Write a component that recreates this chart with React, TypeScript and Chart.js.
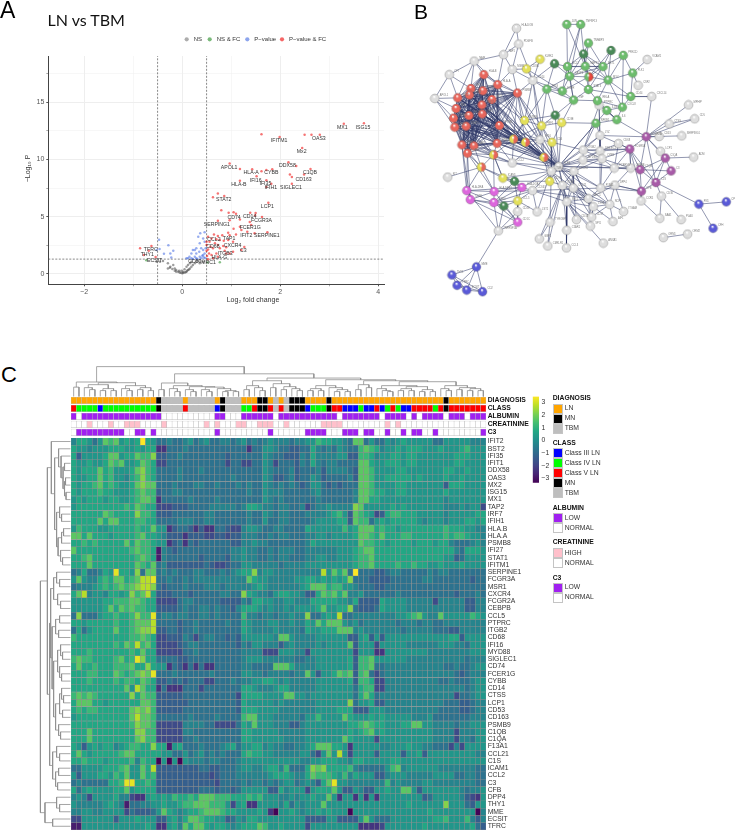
import React, { useEffect, useRef } from "react";
import { Chart, registerables } from "chart.js";

Chart.register(...registerables);
Chart.defaults.font.family = "'Liberation Sans', Arial, sans-serif";
Chart.defaults.plugins.legend.display = false;
Chart.defaults.plugins.tooltip.enabled = false;

/* ---------- Panel A: volcano ---------- */
const volcanoRed = [[3.3,13.13],[3.71,13.16],[1.62,12.2],[1.99,11.97],[2.5,12.17],[2.64,12.17],[2.81,12.17],[2.45,11],[.97,9.64],[1.18,9.17],[1.43,9.14],[1.62,8.97],[1.72,9.08],[1.84,9.14],[2.17,9.75],[2.33,9.43],[2.62,9.17],[2.49,8.68],[2.2,8.7],[2.24,8.47],[1.18,8.15],[1.52,8.53],[1.72,8.18],[1.82,7.89],[1.72,7.6],[2.24,7.89],[.73,7.02],[.86,6.81],[.63,6.7],[1.76,6.23],[.8,5.56],[.95,5.36],[1.05,5.39],[1.1,5.27],[1.39,5.36],[1.5,5.33],[1.49,5.1],[1.63,4.98],[.73,4.66],[.97,4.69],[1.18,4.75],[1.38,4.54],[1.41,4.28],[1.18,4.13],[1.05,3.96],[1.21,3.84],[1.33,3.7],[1.48,3.55],[1.74,3.64],[.94,3.61],[1.1,3.46],[.97,3.38],[.82,3.38],[.65,3.46],[.73,3.32],[.53,3.26],[.6,3.11],[.7,3.03],[.77,2.97],[.85,2.91],[.94,2.97],[.56,2.82],[.67,2.68],[.73,2.53],[.84,2.45],[1.04,2.82],[.58,2.39],[.53,2.15],[.63,2.24],[.77,2.24],[.9,2.33],[.5,2.04],[.55,1.8],[.51,1.57],[.6,1.66],[.7,1.8],[.87,2.04],[.97,1.8],[1.04,1.95],[1.27,2.36],[1.21,2.1],[.63,1.37],[.53,1.28],[.73,1.51],[.9,1.8],[.5,2.53],[.5,2.82],[-.857,2.24],[-.626,2.45],[-.68,2.04],[-.54,1.48],[-.78,1.66]];
const volcanoBlue = [[-.47,3],[-.46,2.18],[-.52,2.1],[-.28,2.5],[-.37,1.77],[-.18,2.04],[-.22,1.43],[-.24,1.8],[.37,3.55],[.46,3.64],[.43,3.11],[.33,3.26],[.36,2.68],[.46,2.82],[.29,2.24],[.39,2.24],[.22,2.1],[.19,1.8],[.29,1.8],[.43,2.1],[.15,1.51],[.26,1.51],[.36,1.51],[.46,1.8],[.12,1.37],[.19,1.37],[.29,1.37],[.39,1.37],[.44,1.46],[.48,2.24],[.09,1.37],[.26,2.1],[.35,1.95],[.43,1.66],[.31,1.3],[.22,1.32],[.41,1.6],[.47,1.4]];
const volcanoGrey = [[-.39,1.14],[-.29,.93],[-.18,.79],[-.24,.64],[-.15,.49],[-.29,.49],[-.12,.35],[-.08,.2],[-.05,.12],[0,.06],[.05,.12],[.09,.2],[.12,.35],[.16,.49],[.19,.64],[.22,.79],[.26,.93],[.29,1.08],[.33,1.16],[.16,.93],[.09,.64],[.02,.2],[-.01,.29],[-.06,.29],[-.12,.2],[-.15,.29],[-.2,.44],[-.25,.55],[.19,1.08],[.36,.93],[.43,1.08],[.12,.79],[.05,.41],[-.52,1.08],[-.45,1.08],[.02,.08],[-.03,.1],[.07,.15],[.1,.28],[.14,.4]];
const volcanoGreen = [[-.73,1.19],[.77,1.02],[.52,1]];
const volcanoLabels: [string, number, number][] = [["MX1",3.27,12.81],["ISG15",3.69,12.81],["OAS3",2.79,11.82],["IFITM1",1.98,11.62],["Mx2",2.44,10.65],["DDX58",2.15,9.43],["APOL1",.96,9.32],["HLA-A",1.41,8.82],["CYBB",1.82,8.82],["C1QB",2.61,8.88],["CD163",2.48,8.27],["IFI16",1.5,8.18],["IFI35",1.7,7.86],["HLA-B",1.16,7.83],["IFIH1",1.81,7.51],["SIGLEC1",2.22,7.51],["STAT2",.85,6.46],["LCP1",1.74,5.85],["CD74",1.06,4.95],["CD14",1.38,5.01],["FCGR3A",1.62,4.66],["SERPING1",.71,4.28],["FCER1G",1.39,4.05],["IFIT2",1.31,3.35],["SERPINE1",1.73,3.32],["TAP1",.96,3.06],["CCL2",.65,2.97],["CD68",.63,2.39],["CXCR4",1.03,2.47],["C3",1.25,2.04],["ITGB3",.88,1.8],["HLA-G",.76,1.43],["TFRC",-.64,2.15],["THY1",-.71,1.66],["ECSIT",-.56,1.14],["CD53",.26,1.08],["MRC1",.54,.99]];
const volcanoLegend: [string, string, number][] = [["NS","#77777799",186.7],["NS & FC","#228b2299",209.7],["P\u2212value","#4169e199",247.3],["P\u2212value & FC","#ee000099",282]];
const pCut = 1.3;
const fcCut = 0.5;

/* ---------- Panel B: network ---------- */
const nodesRed = [[243,215],[286,246],[347,272],[203,258],[240,265],[198,278],[162,287],[268,292],[237,309],[157,320],[197,342],[238,337],[149,350],[153,378],[188,375],[291,373],[175,433],[212,436],[284,428],[192,459]];
const nodesMix = [[335,415],[372,425],[429,472],[273,464],[235,502]];
const nodesYellow = [[417,167],[375,197],[369,357],[422,374],[484,364],[454,425],[302,536],[447,546],[348,607]];
const nodesGreen = [[500,59],[543,59],[567,117],[675,155],[704,210],[698,283],[672,316],[655,355],[624,326],[590,366],[595,296],[521,294],[567,261],[628,232],[612,190],[557,189],[502,190],[509,220],[486,266],[438,260]];
const nodesGreenRed = [[568,222]];
const nodesDark = [[462,181],[552,151],[637,140],[464,341],[338,546],[305,623]];
const nodesPink = [[190,575],[275,578],[361,565],[201,603],[274,612],[348,673]];
const nodesViolet = [[746,408],[695,446],[805,474],[727,510],[823,514],[776,550],[731,577]];
const nodesBlue = [[909,617],[994,610],[953,692],[220,812],[144,837],[160,869],[190,884],[239,889]];
const nodesWhite = [[344,71],[351,120],[304,153],[213,173],[136,215],[91,289],[331,199],[395,233],[749,168],[721,248],[763,283],[877,309],[896,352],[817,368],[856,405],[786,407],[893,471],[790,453],[131,533],[600,310],[603,404],[660,429],[551,449],[603,452],[550,480],[609,476],[647,505],[698,505],[417,417],[331,489],[475,500],[452,515],[522,515],[486,559],[520,567],[605,567],[649,558],[394,575],[567,600],[500,610],[582,625],[633,618],[730,607],[793,592],[676,640],[348,640],[408,641],[448,673],[530,665],[577,657],[643,671],[573,685],[500,698],[415,725],[441,747],[499,753],[613,738],[788,661],[854,665],[799,721],[874,710],[288,700]];
const namesRed = ["HLA-B","HLA-A","PSMB8","IFIT1","IFI35","OAS3","IFIT2","MX2","ISG15","MX1","BST2","IRF7","DDX58","IFI27","STAT1","IFITM1","IFIH1","TAP2","STAT2","OAS1"];
const namesGreen = ["JUN","TNFSF13","TNFAIP3","PRKCD","PLK1","CD44","CXCL8","IL6","IL1B","NFKB1","RELA","TNF","STAT3","MYC","AKT1","MAPK1","BCL2","CASP3","EGFR","TP53"];
const namesViolet = ["FCGR2A","FCGR3A","C1QA","C1QB","C3","C1S","CFB"];
const namesBlue = ["FN1","CP","CFH","MME","THY1","TFRC","ECSIT","CD2"];
const namesYellow = ["KLRK1","CD8A","GZMB","PRF1","CD3E","CD4","ICAM1","CD74","CCL5"];
const namesPink = ["HLA-DRA","HLA-DPB1","HLA-DQA1","CD86","CD80","CD1C"];
const namesWhite = ["HLA-DOB","PDGFB","TAP1","NAIP","CFI","APOL1","MSR1","CD14","VCAM1","CSF2","CXCL14","MPHIP","CD5","CTSS","SERPING1","CD53","ADM","LCP1","KIT","PTPRC","LYZ","CD68","ITGB2","SIGLEC1","MYD88","CYBB","FCER1G","CEBPB","IFI16","CCL2","TLR2","TLR4","CXCR4","ITGB3","CCL21","F13A1","DPP4","CD163","MRC1","SELL","LY96","NCF1","CCR5","CD36","ITGAM","CD48","LST1","TYROBP","CD33","CD37","AIF1","SPI1","C5AR1","GBP1","CMKLR1","CCL3","ANXA1","SAA1","PLAU","ORM1","ORM2","TNFRSF1A"];

const edgeCliques = ["r0 r1 r2 r3 r4 r5 r6 r7 r8 r9 r10 r11 r12 r13 r14 r15 r16 r17 r18 r19"];
const edgeLists = [
"r2:m0 m1 y2 w28 w30 y3","r15:m0 m1 m2 w28 w30","r18:m0 m1 m3 m2 w30 w29","r7:m0 m1 m2 w30","r8:m0 m1 m2 w30","r11:m0 m1 m2 w30","r10:m0 m1 m3 w30","r14:m0 m1 m2 w30 m3","r13:m0 m1 m3 w30","r12:m0 m1 m3 m2","r16:m1 m3 m4 w29 p0 p3","r17:m0 m1 m3 m4 w30","r19:m3 m4 p0 p1 p3","r9:m0 m1 w30 m2","r6:m0 m1 m2 w30","r5:m0 m1 m2 w30","r4:m0 m1 m2 w30","r1:m1 m2 w30",
"m0:m1 m2 y3 w28 w29 m3","m1:m2 y3 w28 w30 w31","m2:y3 w30 w31 y7 w28","m3:m4 w29 y6",
"g0:g16 g15 g1","g1:g16 g15 g17","g2:g15 d1 g14","d1:g15 g14 g16 g17 g13 mg","d2:g14 g13 mg","g3:g4 g13 g14 g6","g4:g5 g13 w9 w8","g5:g13 g6 g12 w10","g6:g8 g10 g7 g13","g7:g8 g9 w19 g10 v0","g8:g10 w19 g9","g10:g12 g13 g11 w19","g11:g18 g19 g12 g17 g16 y4 d3","g12:g17 g15 g14 g13 mg","g13:mg g14 g15","g14:g15 g16 mg g17","g15:g16 g17 mg","g16:g17 g18 d0","g17:g18 g19 mg","g18:g19 w7 mg","g19:w7 d0 m0 y3","d0:g17 w7",
"w0:w1 w2","w1:w2 w6 w7","w2:w3 w6 r1","w3:w4 r0 r1 r3 r6","w4:w5 r3 r6","w5:r6 r9 r12 r13","w6:w7 r1 r2 y1","w7:r2 w28 y2 y3","y1:y0 w7 g18","y0:w7",
"w10:v0 g5","v0:w11 w12 w13 w14 w15 w17 v1 v3 v5 v2","w12:w13","v1:v3 v6 v5 w23 w21 w22 w26 w27","v2:v3 v4 v5 w17 v6 w16","v3:v4 v5 v6 w26","v4:v5","v5:v6 w43 b0","v6:w42 w36 w35","b0:b1 b2","w43:w57 w58","w42:w57","w59:w60",
"w30:w31 w32 w33 w34 w24 w25 w22 w23 w26 w27 w35 w38 w39 w41 w40 y3 y7 w20 g9 d3 y4","w31:w32 w33 w37 y7 p2 w39 w47 w34 y6","w32:w33 w34 w38 w39 w40 w24 w25 w35","w33:w34 w39 w38 w40 w48 w52 w47 w53 w54","w34:w38 w39 w40 w41 w49 w48","w39:w38 w48 w52 w49 w55 w40 w51","w38:w40 w41 w49 w35 w36 w51","w40:w41 w49 w51 w50","w41:w35 w36 w44 w50 w49","w35:w36 w25 w23 w26","w36:w44 v6 w27","w22:w23 w24 w25 w20","w23:w25 w20 w21 w24","w24:w25 w26","w25:w26 w27 v1","w26:w27","w27:v3 v1","w47:w53 w54","w52:w55","w37:p2 p1 p4 w39 w35 w38","w39:w56",
"p0:p1 p3 p4 p2 m4","p1:p2 p3 p4 m3 p5 m4","p2:p4 y8 y6 d4","p3:p4 p5 d5","p4:p5 d5 y8 d4","p5:w61 w45 y8 d5","w61:b3 p0 p4 d5 w45","b3:b4 b5 b6 b7","b4:b5 b6 b7","b5:b6 b7","b6:b7","w18:m4","d4:m4 y6 y8","y6:m4 m3","y7:d4 w33","y8:w45 w37 d5 w46","w46:w37 w31",
"d3:y2 y3 y4 g19","y2:y3 m0 w28 r4","y3:y4 y5 w28","y4:y5 g9","y5:w30 w28 w31 w22","g9:w20 w30 w22","w19:w20 w22 w23","w20:v0 w23 w21","w21:w26 v1","w29:w30 w31 r19","w28:w29 w30"];

/* ---------- Panel C: heatmap ---------- */
const genes = ["IFIT2","BST2","IFI35","IFIT1","DDX58","OAS3","MX2","ISG15","MX1","TAP2","IRF7","IFIH1","HLA.B","HLA.A","PSMB8","IFI27","STAT1","IFITM1","SERPINE1","FCGR3A","MSR1","CXCR4","FCGR2A","CEBPB","CCL5","PTPRC","ITGB2","CD68","IFI16","MYD88","SIGLEC1","CD74","FCER1G","CYBB","CD14","CTSS","LCP1","CD53","CD163","PSMB9","C1QB","C1QA","F13A1","CCL21","C1S","ICAM1","CCL2","C3","CFB","DPP4","THY1","MME","ECSIT","TFRC"];
// each character is a read colour level, see levelValue
const heatRows = [
"688757a9a7878e87 5565567567556656 7565676665667798 87765aa575576787 77775577777666",
"8776777888778788 2255565555555555 5255776554455865 6576559a98677878 88777877789777",
"847777 8aa788a99b 4455655555555455 5555765544465866 6677449986778878 87777777888777",
"8778778a9a778a98 3355555555555355 3355763555465865 665555aa87788878 87777777887777",
"87888a897778ab98 5555655565555555 5555765556455564 666654aa97777887 77777788778777",
"87788a8977689b98 5555655555555565 5555764456455764 555564aa97788888 78777787787777",
"87889a898778abaa 5556555665565556 5655765656545775 454555aa97777887 77777748887777",
"8788898877789a99 4556655555555555 5655766655555675 555556aa98877887 77777787777777",
"7878887887789aa9 2555556555565555 5555765655555565 555556aa88777777 77777767777777",
"7888888888 98a988 3334445555666665 6887665665563566 76666ba777778787 77777766676773",
"888888a98888b998 4445555556655555 5655765665556666 78974a9873489988 87777767777788",
"88888a8aa8889988 5555666556655555 5655755665555677 77884a9957878888 87677767778878",
"798887788888988a 7724554242255433 6776556655558777 777978aaa8988788 88888898887766",
"aa8a888788889a88 7644424443344344 6665565665556677 677778aa98a88899 88888898998776",
"8898988888a8a998 7724525455555544 6676655555556877 777777a998878888 78887886555676",
"a88888888889a998 1654555555555566 7665565666556666 6677789aa8888888 88888888658887",
"889a888888889a98 1655555545555466 7665565665556677 66777899a8888888 88888877457777",
"888a88888888a98a 5644444445433455 7766666566667777 77777899a8888988 98877877787777",
"56855687d887b5aa 5656555665556567 88b677666666666c 7a8a5e5554456655 55565665555555",
"7a766898aa89accd 5565565666666666 6a87766666778878 7878b55544445555 55665555555455",
"566678989a9abccb 5455565556665666 6678766666678aaa 8997765554455555 55555555555555",
"8ac67768878b9ac8 4445554555556655 b87665788776448a 9a8a667555555655 55555555455565",
"77777788999aa988 3333566555554444 6588776677666888 8877684444877776 66663666664466",
"7777778a8a9a9988 4444565566565546 888767667677778a 7788b54445877776 66666666664466",
"5b5557889889b99d 5665665566565555 966566566766b557 87c5566666666778 9a766a77777987",
"887888889889aaac 5555455655555655 87666776676687a8 aaa7675666666566 65665566666666",
"58578888a889abbc 4455455655555555 8766667666658778 88aaa67666666656 66665554466666",
"9888888888899a98 3344465356655454 7777776aa7666677 7777447847477777 77777778847777",
"8888888898a9c9a8 3333456655555554 6577666467666676 7777a47773777776 66666777665777",
"8889888888898a88 3333355655555555 6666333777663777 7777737772277777 77766666666777",
"9a9988889a89db88 5555445555555555 6777666666556677 77778499a7777776 66666666665666",
"8a889888999a88b8 7725425252255555 665555aaa8666677 77778499a5566666 66666655655677",
"88899888a989abad 5556555555655555 776656666566a747 78a9a49a53566666 66666666545666",
"8889888898998a98 4454545553355565 6677887676666677 7777849983366666 66666556555677",
"8888888888a7ca88 2522255535555555 8876667886666677 7777758993366666 66666666665677",
"9a9a9888888b8a99 4444455555555553 888877 77aa776777 7777758a85666666 66666666355677",
"8aaa887888888aa9 4444445555555554 8777776766666677 7777b57784466666 66666655544566",
"89899888888abab9 4444455555555554 8887777666666677 7788844477766666 66666555544566",
"78888888888acaa9 5555556555565555 9aa7776666657797 777a877787877777 66675555555666",
"888888888889baa9 3333366665533335 87a7776664467777 7777889a98877788 aa776666566777",
"888a88888888bb99 3333366555555555 8877777666667777 77778789a7877777 77776666366677",
"888a88888888ab99 3333355655555555 8877777766667777 777a877773777777 77776666366577",
"8747878867899 88b 8817855565556785 7788676655667 8aa a8872777776677 78776655536377",
"8a87888889aa8888 8775575675656555 8988776666677537 a7c7377774777747 78477777777766",
"8898887888896988 0707076665665556 7777777777766778 8877688777778877 77777777777777",
"5577778889a77a8c 4444444455445556 7766788695558bab 8888965555579a67 77777666666655",
"7477788798a77a89 4444444444345556 6666678887668a99 9879687774467776 66667777556655",
"5655555889dd8898 4444444444435555 6566565677567648 ad77666666696766 66776666666655",
"8578777788a78888 4444444455545545 7777744867773788 8a744764477877aa 7477777776 566",
"6763777786 63227 8 7879889 8aaa99 98 8898977766767787 7a72772727277777 77745777776432",
"7666667876 1556 6 7787789 9aaa9997 3782277776857677 7a77777777777777 78777777b77754",
"6677667777354445 7a87678 89aaa9887 7778720778767787 87770777777777 77 77787777777706",
"3377777747778777 4478 68aa98877457 6887777777774444 7744447a75557777 77778897779646",
"1177777777777787 2278 6a8aa8788767 888a977877773777 7777772222377777 77877777777854"
];
const levelValue = (ch: string) => { const i = "0123456789abcde".indexOf(ch.toLowerCase()); return i < 0 ? 0.2 : -3.3 + 0.5 * i; };
const heatValues = heatRows.map(r => r.replace(/\s/g, "").padEnd(78, "7").slice(0, 78).split("").map(levelValue));

const annDiagnosis = "LLLLLLLLLLLLLLLL MTTTTLTTTTTLMTTT LLLMMLTLTMMMLLLL MLLLLLLLLLLLLLLL LLLLLLMLLLLLLL";
const annClass = "5444434444444444 MTTTT5TTTTT3MTTT 445MM5T5TMMM3444 M553334335345433 555545M5555555";
const annAlbumin = "LNLLLLLLLLLLLLLL LNNNNNNNNNNLLNNN LLLLLLNLLLLLLLLL LLNLLLLLLLNLLLLN LNLLLLNLLLNLLL";
const annCreatinine = "NNNHNNNHNNHHHNNN NHNNNNNNNHNHNNNH HNNHHHNNHNNNNNNH HHHNNNNNNNNHNHNN NNNNNNNNNNNNNN";
const annC3 = "NLLLLLLLLLNNLLNL NNNNNNNNNNNLNNNN NNNNNLNNNNNNLLLL NNNLLLNLLNNLNNLN LLNNLNNNNNNNNL";
const annNames = ["DIAGNOSIS","CLASS","ALBUMIN","CREATININE","C3"];
const diagColors: Record<string,string> = { L:"#ffa500", M:"#000000", T:"#bebebe" };
const classColors: Record<string,string> = { "3":"#0000ff", "4":"#00ff00", "5":"#ff0000", M:"#000000", T:"#bebebe" };
const lowColors: Record<string,string> = { L:"#a020f0", N:"#ffffff" };
const highColors: Record<string,string> = { H:"#ffc0cb", N:"#ffffff" };

const legendGroups: { title:string; y:number; top:number; items:[string,string][] }[] = [
  { title:"DIAGNOSIS", y:398.7, top:403.7, items:[["LN","#ffa500"],["MN","#000000"],["TBM","#bebebe"]] },
  { title:"CLASS", y:443.3, top:448.3, items:[["Class III LN","#0000ff"],["Class IV LN","#00ff00"],["Class V LN","#ff0000"],["MN","#000000"],["TBM","#bebebe"]] },
  { title:"ALBUMIN", y:508, top:513.3, items:[["LOW","#a020f0"],["NORMAL","#ffffff"]] },
  { title:"CREATININE", y:542.7, top:548, items:[["HIGH","#ffc0cb"],["NORMAL","#ffffff"]] },
  { title:"C3", y:578, top:582.7, items:[["LOW","#a020f0"],["NORMAL","#ffffff"]] },
];

// dendrograms: [merge height, left child, right child]; 0 is a leaf
const colTree: any = [30.3,
  [14.7,[9.5,0,0],[14,[12,[9,0,[7,0,0]],[8,[6,0,0],[6,0,0]]],[11,[8,0,[6,0,0]],[9,[7,0,0],[6,0,0]]]]],
  [23,
    [13.7,[7,0,0],[11,[8,0,[5,0,0]],[10,[7,0,[5,0,0]],[9.5,[7,0,[5,0,0]],[8,0,[6,[5,0,0],[5,0,0]]]]]]],
    [18.7,
      [16,[11,[7,0,0],[9,0,[6,0,0]]],[13,[9,0,0],[10,[7,0,0],[8,0,[6,0,0]]]]],
      [17,
        [11,[8,[6,0,0],[6,0,0]],[9,0,[7,[5,0,0],[5,0,0]]]],
        [16,[12,[7,0,0],[9,0,0]],[15,
          [11,[8,0,[6,0,[5,0,0]]],[10,[8,[6,0,0],[6,0,0]],[7,[5,0,0],[5,0,0]]]],
          [11,[8,0,[6,0,0]],[9,[7,0,0],[8,[6,0,0],[6,0,0]]]]]]]]]];
const rowTree: any = [30.3,
  [23.3,
    [19.3,0,[16,
      [12,0,[9.5,0,[7.5,[6,0,0],[6,[5,0,0],[4.5,0,0]]]]],
      [14,[11,0,[9,0,0]],[12.5,[9,[7,0,0],0],[10,0,[8,0,0]]]]]],
    [21,
      [20,[17,[14,0,[11,0,0]],[13,0,[10,0,0]]],[18.5,[15,[11,0,0],[12,0,0]],
        [17,[13,[10,0,[8,0,0]],[11,0,[9,0,0]]],[15,[11,[9,0,[7,0,0]],[8,0,0]],[12,0,[10,0,0]]]]]],
      [18,[14,0,[11,0,0]],[15,[12,0,0],[13,0,0]]]]],
  [25.7,[14,0,[11,0,0]],[18,0,0]]];

const colorMin = -3.34, colorMax = 3.45;
const colorTicks = [-3,-2,-1,0,1,2,3];

/* ---------- helpers ---------- */
const viridis = ["#440154","#482475","#414487","#355f8d","#2a788e","#21918c","#22a884","#44bf70","#7ad151","#bddf26","#fde725"];
const hex = (h: string) => [1,3,5].map(i => parseInt(h.slice(i,i+2),16));
function colorOf(v: number) {
  const t = Math.max(0, Math.min(1, (v - colorMin) / (colorMax - colorMin))) * 10;
  const i = Math.min(9, Math.floor(t)); const a = hex(viridis[i]), b = hex(viridis[i+1]); const f = t - i;
  return `rgb(${a.map((c,k) => Math.round(c + (b[k]-c)*f)).join(",")})`;
}
const minus = (v: number) => v < 0 ? "\u2212" + (-v) : String(v);
const fixW = (w: number) => (s: any) => { s.width = w; };
const fixH = (h: number) => (s: any) => { s.height = h; };
const pts = (a: number[][]) => a.map(([x,y]) => ({x,y}));

function sphere(color: string, second?: string) {
  const c = document.createElement("canvas"); c.width = 11; c.height = 11;
  const g = c.getContext("2d")!; const R = 4.4, m = 5.5;
  const draw = (col: string, clip?: boolean) => {
    g.save();
    if (clip) { g.beginPath(); g.rect(m, 0, 6, 11); g.clip(); }
    g.beginPath(); g.arc(m, m, R, 0, Math.PI*2);
    const gr = g.createRadialGradient(m-.6, m-1.8, .4, m, m, R);
    gr.addColorStop(0, "#ffffff"); gr.addColorStop(.32, col); gr.addColorStop(1, col);
    g.fillStyle = gr; g.fill(); g.restore();
  };
  draw(color); if (second) draw(second, true);
  g.beginPath(); g.arc(m, m, R, 0, Math.PI*2); g.strokeStyle = "rgba(70,70,70,.55)"; g.lineWidth = .5; g.stroke();
  return c;
}

function tree(t: any) {
  let leaf = 0; const segs: ({p:number,h:number}|null)[] = [];
  const walk = (n: any): {p:number,h:number} => {
    if (n === 0) return { p: (leaf++) + .5, h: 0 };
    const A = walk(n[1]), B = walk(n[2]); const h = n[0];
    segs.push({p:A.p,h:A.h},{p:A.p,h},{p:B.p,h},{p:B.p,h:B.h},null);
    return { p:(A.p+B.p)/2, h };
  };
  walk(t); return segs;
}

/* ---------- chart configs ---------- */
function volcanoConfig(): any {
  const ds = (data: number[][], c: string) => ({ type:"scatter", data:pts(data), backgroundColor:c, borderWidth:0, pointRadius:1.25 });
  const line = (data: number[][]) => ({ type:"scatter", showLine:true, data:pts(data), borderColor:"#555", borderWidth:.7, borderDash:[2,1.5], pointRadius:0 });
  return {
    type:"scatter",
    data:{ datasets:[
      ds(volcanoRed,"rgba(238,0,0,.55)"), ds(volcanoBlue,"rgba(65,105,225,.55)"), ds(volcanoGreen,"rgba(34,139,34,.55)"), ds(volcanoGrey,"rgba(77,77,77,.55)"),
      line([[-2.73,pCut],[4.12,pCut]]), line([[-fcCut,-.9],[-fcCut,19.04]]), line([[fcCut,-.9],[fcCut,19.04]]),
    ]},
    options:{ responsive:false, animation:false, layout:{padding:{left:18.3,top:56,right:16,bottom:5.7}},
      scales:{
        x:{ type:"linear", min:-2.73, max:4.12, afterFit:fixH(25),
          ticks:{ stepSize:1, includeBounds:false, autoSkip:false, maxRotation:0, color:"#555", font:{size:7}, padding:2, callback:(v:number)=> v%2===0 ? minus(v) : "" },
          grid:{ color:"#eeeeee", lineWidth:(c:any)=> c.tick && c.tick.value%2===0 ? 1 : .5, tickLength:2, tickColor:"#555" },
          border:{ display:true, color:"#444", width:1 } },
        y:{ type:"linear", min:-.9, max:19.04, afterFit:fixW(30),
          ticks:{ stepSize:2.5, includeBounds:false, autoSkip:false, color:"#555", font:{size:7}, padding:2, callback:(v:number)=> v%5===0 ? String(v) : "" },
          grid:{ color:"#eeeeee", lineWidth:(c:any)=> c.tick && c.tick.value%5===0 ? 1 : .5, tickLength:2, tickColor:"#555" },
          border:{ display:true, color:"#444", width:1 } },
      } },
    plugins:[{ id:"volcanoText", afterDatasetsDraw(ch:any){
      const g = ch.ctx, X = ch.scales.x, Y = ch.scales.y; g.save();
      g.font = "5.2px 'Liberation Sans'"; g.fillStyle = "#333"; g.textAlign = "center"; g.textBaseline = "middle";
      volcanoLabels.forEach(([t,x,y]) => g.fillText(t, X.getPixelForValue(x), Y.getPixelForValue(y)));
      g.font = "6px 'Liberation Sans'"; g.textAlign = "left";
      volcanoLegend.forEach(([t,c,x]) => { g.fillStyle = c; g.beginPath(); g.arc(x,39.3,2.1,0,7); g.fill(); g.fillStyle = "#333"; g.fillText(t, x+7, 39.5); });
      g.font = "7px 'Liberation Sans'"; g.textAlign = "center"; g.fillStyle = "#333"; g.fillText("Log\u2082 fold change", 253, 300);
      g.translate(28,168.5); g.rotate(-Math.PI/2); g.fillText("\u2212Log\u2081\u2080 P", 0, 0);
      g.restore();
    } }],
  };
}

function networkConfig(): any {
  const groups: [string, number[][], string, string|undefined, string[]][] = [
    ["r",nodesRed,"#e8665c",undefined,namesRed],["m",nodesMix,"#e3dd55","#e8665c",[]],["y",nodesYellow,"#e3e05a",undefined,namesYellow],
    ["g",nodesGreen,"#6dbd6d",undefined,namesGreen],["mg",nodesGreenRed,"#6dbd6d","#e8443c",[]],["d",nodesDark,"#4a8a58",undefined,[]],
    ["p",nodesPink,"#dd66dd",undefined,namesPink],["v",nodesViolet,"#a85ba8",undefined,namesViolet],["b",nodesBlue,"#5a5ad8",undefined,namesBlue],["w",nodesWhite,"#dedede",undefined,namesWhite],
  ];
  const key: Record<string,number[]> = {};
  groups.forEach(([k,arr]) => arr.forEach((p,i) => { key[k==="mg" ? "mg" : k+i] = p; }));
  const links: any[] = [];
  const add = (a:string,b:string) => { const A = key[a], B = key[b]; if (A && B) links.push({x:A[0],y:A[1]},{x:B[0],y:B[1]},{x:null,y:null}); };
  edgeCliques.forEach(s => { const m = s.split(" "); m.forEach((a,i) => m.slice(i+1).forEach(b => add(a,b))); });
  edgeLists.forEach(s => { const [a,r] = s.split(":"); r.split(" ").forEach(b => add(a,b)); });
  return {
    type:"scatter",
    data:{ datasets:[
      ...groups.map(([,arr,c,c2]) => ({ data:pts(arr), pointStyle:sphere(c,c2), pointRadius:4.4 })),
      { data:links, showLine:true, pointRadius:0, borderColor:"rgba(46,56,104,.62)", borderWidth:.85, spanGaps:false },
    ]},
    options:{ responsive:false, animation:false, layout:{padding:0},
      scales:{ x:{ type:"linear", min:0, max:1026, display:false }, y:{ type:"linear", min:0, max:960, reverse:true, display:false } } },
    plugins:[{ id:"nodeNames", afterDatasetsDraw(ch:any){
      const g = ch.ctx, X = ch.scales.x, Y = ch.scales.y; g.save();
      g.font = "2.6px 'Liberation Sans'"; g.fillStyle = "#777"; g.textBaseline = "middle";
      groups.forEach(([,arr,,,names]) => arr.forEach((p,i) => { if (names[i]) g.fillText(names[i], X.getPixelForValue(p[0])+5, Y.getPixelForValue(p[1])-3); }));
      g.restore();
    } }],
  };
}

function heatConfig(): any {
  return {
    type:"bar",
    data:{ labels:heatValues[0].map((_,i)=>i+1), datasets:heatValues.map((row,r)=>({
      label:genes[r], data:row.map(()=>1), backgroundColor:row.map(colorOf), borderColor:"#8e8e8e", borderWidth:.5, borderSkipped:false, barPercentage:1, categoryPercentage:1,
    }))},
    options:{ responsive:false, animation:false, layout:{padding:{left:71,right:2,top:7.9,bottom:10.1}},
      scales:{
        x:{ stacked:true, display:false },
        y:{ stacked:true, type:"linear", position:"right", reverse:true, min:0, max:54, afterFit:fixW(57),
          afterBuildTicks:(s:any)=>{ s.ticks = genes.map((_,i)=>({value:i+.5})); },
          ticks:{ autoSkip:false, font:{size:6.8}, color:"#333", padding:1.7, callback:(_:any,i:number)=>genes[i] },
          grid:{ display:false, drawTicks:false, tickLength:0 }, border:{ display:false } },
      } },
  };
}

function annotationConfig(): any {
  const clean = (s:string)=>s.replace(/\s/g,"").split("");
  const tracks = [[annDiagnosis,diagColors],[annClass,classColors],[annAlbumin,lowColors],[annCreatinine,highColors],[annC3,lowColors]] as [string,Record<string,string>][];
  const datasets:any[] = [];
  tracks.forEach(([s,map])=>{
    const cells = clean(s);
    datasets.push({ data:cells.map(()=>.84), backgroundColor:cells.map(c=>map[c]), borderColor:"#bdbdbd", borderWidth:.5, borderSkipped:false, barPercentage:1, categoryPercentage:1 });
    datasets.push({ data:cells.map(()=>.16), backgroundColor:"rgba(0,0,0,0)", borderWidth:0, barPercentage:1, categoryPercentage:1 });
  });
  return {
    type:"bar",
    data:{ labels:clean(annClass).map((_,i)=>i+1), datasets },
    options:{ responsive:false, animation:false, layout:{padding:{left:71,right:2,top:7,bottom:9}},
      scales:{
        x:{ stacked:true, display:false },
        y:{ stacked:true, type:"linear", position:"right", reverse:true, min:0, max:5, afterFit:fixW(57),
          afterBuildTicks:(s:any)=>{ s.ticks = annNames.map((_,i)=>({value:i+.42})); },
          ticks:{ autoSkip:false, font:{size:6.8,weight:"bold"}, color:"#111", padding:1.7, callback:(_:any,i:number)=>annNames[i] },
          grid:{ display:false, drawTicks:false, tickLength:0 }, border:{ display:false } },
      } },
  };
}

function colTreeConfig(): any {
  const data = tree(colTree).map(s => s ? {x:s.p,y:s.h} : {x:null,y:null});
  return { type:"scatter", data:{ datasets:[{ data, showLine:true, pointRadius:0, borderColor:"#8f8f8f", borderWidth:.8, spanGaps:false }] },
    options:{ responsive:false, animation:false, layout:{padding:0}, scales:{ x:{type:"linear",min:0,max:78,display:false}, y:{type:"linear",min:-.5,max:37,display:false} } } };
}
function rowTreeConfig(): any {
  const data = tree(rowTree).map(s => s ? {x:s.h,y:s.p} : {x:null,y:null});
  return { type:"scatter", data:{ datasets:[{ data, showLine:true, pointRadius:0, borderColor:"#8f8f8f", borderWidth:.8, spanGaps:false }] },
    options:{ responsive:false, animation:false, layout:{padding:{top:7.9,bottom:.1}}, scales:{ x:{type:"linear",min:-.5,max:71,reverse:true,display:false}, y:{type:"linear",min:0,max:54,reverse:true,display:false} } } };
}
function colorbarConfig(): any {
  return { type:"bar",
    data:{ labels:[""], datasets:[{ data:[[colorMin,colorMax]], barPercentage:1, categoryPercentage:1, borderSkipped:false,
      backgroundColor:(c:any)=>{ const a = c.chart.chartArea; if(!a) return "#21918c"; const g = c.chart.ctx.createLinearGradient(0,a.bottom,0,a.top); viridis.forEach((v,i)=>g.addColorStop(i/10,v)); return g; } }] },
    options:{ responsive:false, animation:false, layout:{padding:{left:7.7,right:2,top:6,bottom:7.3}},
      scales:{ x:{display:false},
        y:{ type:"linear", position:"right", min:colorMin, max:colorMax, afterFit:fixW(24),
          afterBuildTicks:(s:any)=>{ s.ticks = colorTicks.map(value=>({value})); },
          ticks:{ autoSkip:false, font:{size:6.8}, color:"#333", padding:2.5, callback:(v:number)=>minus(v) },
          grid:{ display:false, drawTicks:false, tickLength:0 }, border:{ display:false } } } } };
}

function Panel({ left, top, width, height, make }: { left:number; top:number; width:number; height:number; make:()=>any }) {
  const ref = useRef<HTMLCanvasElement>(null);
  useEffect(() => { const c = new Chart(ref.current!, make()); return () => c.destroy(); }, []);
  return <canvas ref={ref} width={width} height={height} style={{ position:"absolute", left, top, width, height }} />;
}

const abs = (left:number, top:number, extra:any = {}) => ({ position:"absolute" as const, left, top, whiteSpace:"nowrap" as const, lineHeight:1, fontFamily:"'Liberation Sans', Arial, sans-serif", ...extra });

export default function App() {
  return (
    <div style={{ position:"absolute", left:0, top:0, width:742, height:830, background:"#fff", overflow:"hidden" }}>
      <Panel left={0} top={0} width={400} height={315} make={volcanoConfig} />
      <Panel left={400} top={0} width={342} height={320} make={networkConfig} />
      <Panel left={71} top={360} width={415} height={37} make={colTreeConfig} />
      <Panel left={0} top={430} width={71} height={400} make={rowTreeConfig} />
      <Panel left={0} top={390} width={545} height={56} make={annotationConfig} />
      <Panel left={0} top={430} width={545} height={410} make={heatConfig} />
      <Panel left={525} top={390} width={40} height={100} make={colorbarConfig} />
      <div style={abs(0,-1,{fontSize:23})}>A</div>
      <div style={abs(414,1,{fontSize:21})}>B</div>
      <div style={abs(1,364,{fontSize:22})}>C</div>
      <div style={abs(47.5,12,{fontSize:16,fontFamily:"Lato, sans-serif",color:"#111"})}>LN vs TBM</div>
      {legendGroups.map(g => (
        <React.Fragment key={g.title}>
          <div style={abs(552.7,g.y-3.4,{fontSize:6.8,fontWeight:"bold",color:"#111"})}>{g.title}</div>
          {g.items.map(([t,c],i)=>(
            <React.Fragment key={t}>
              <div style={{ position:"absolute", left:552.7, top:g.top+i*10, width:10, height:10, boxSizing:"border-box", background:c, border:"0.5px solid #c4c4c4" }} />
              <div style={abs(564.7,g.top+i*10+1.6,{fontSize:6.8,color:"#333"})}>{t}</div>
            </React.Fragment>
          ))}
        </React.Fragment>
      ))}
    </div>
  );
}
